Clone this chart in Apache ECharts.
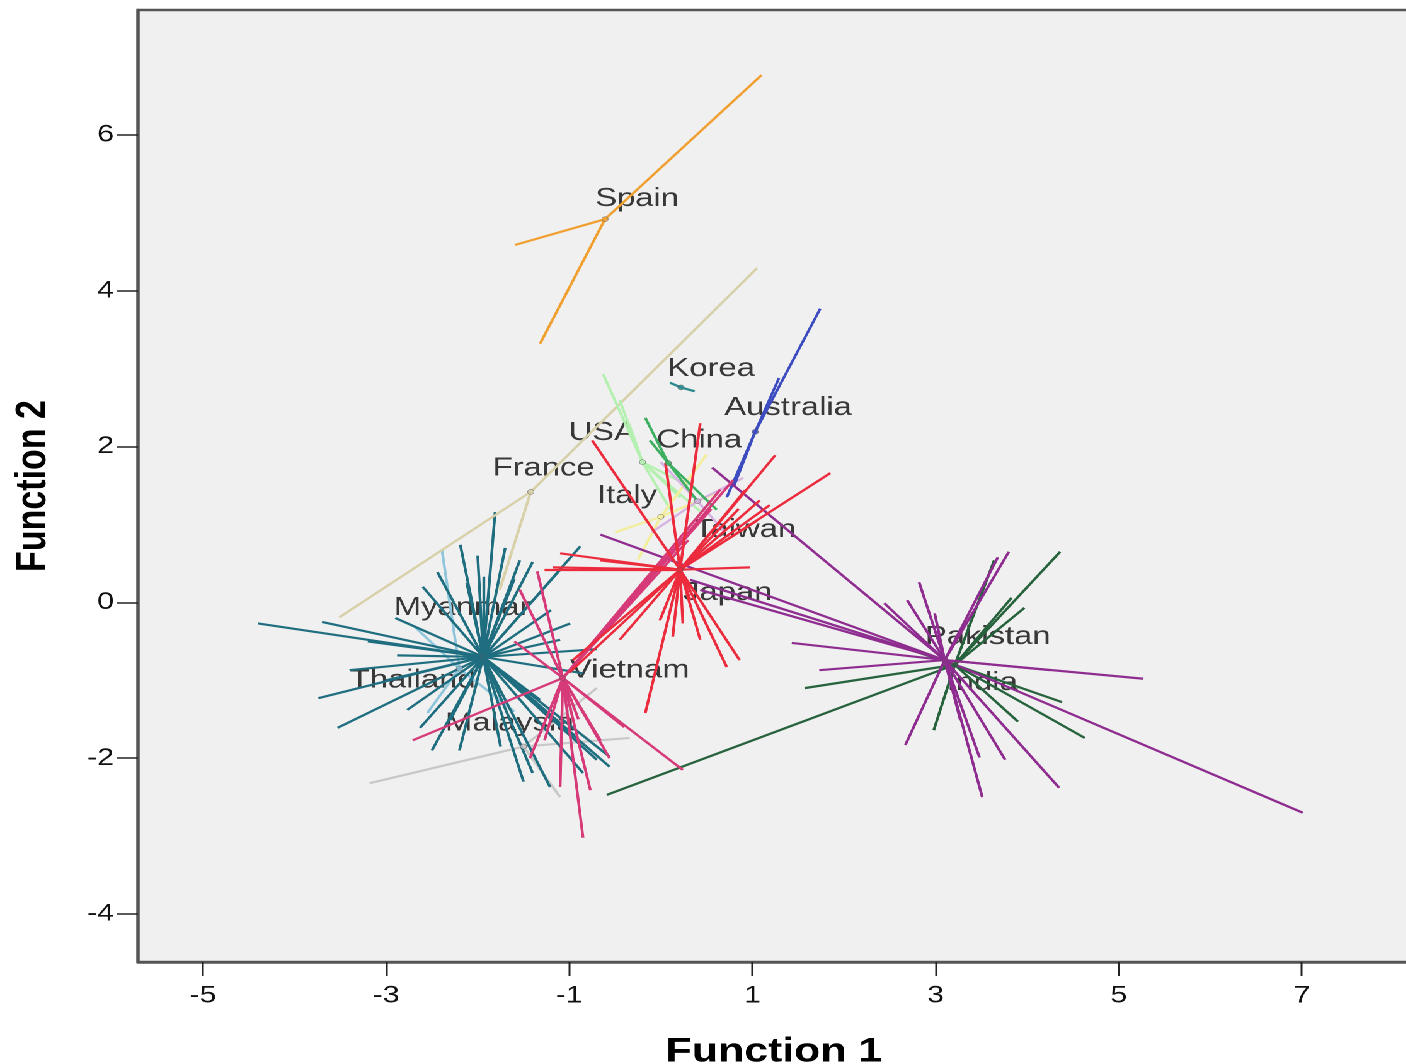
<!DOCTYPE html>
<html>
<head>
<meta charset="utf-8">
<title>Canonical Discriminant Functions</title>
<script src="https://cdn.jsdelivr.net/npm/echarts@6.0.0/dist/echarts.min.js"></script>
<style>
html, body { margin: 0; padding: 0; background: #fff; overflow: hidden; }
/* the source picture is stretched sideways, so the chart is too */
#main { width: 1116px; height: 1064px; transform: scaleX(1.26); transform-origin: 0 0; }
</style>
</head>
<body>
<div id="main"></div>
<script>
// group names, in drawing order
var groups = ['Malaysia', 'Myanmar', 'Thailand', 'France', 'Spain', 'Korea', 'USA', 'Italy',
              'Taiwan', 'China', 'Australia', 'India', 'Pakistan', 'Vietnam', 'Japan'];

// group centroids [function 1, function 2]
var centroids = {
  Spain: [-0.61, 4.92], France: [-1.42, 1.42], Korea: [0.22, 2.76], Australia: [1.03, 2.19],
  USA: [-0.2, 1.8], China: [0.08, 1.79], Italy: [0.0, 1.1], Taiwan: [0.4, 1.3],
  Japan: [0.21, 0.42], Vietnam: [-1.07, -0.97], Thailand: [-1.94, -0.7], Myanmar: [-2.2, -0.85],
  Malaysia: [-1.5, -1.85], Pakistan: [3.1, -0.74], India: [3.21, -0.8]
};

// case scores per group
var spainCases = [[1.10, 6.77], [-1.59, 4.59], [-1.32, 3.32]];
var franceCases = [[1.05, 4.29], [-3.51, -0.19], [-1.76, 0.16]];
var koreaCases = [[0.37, 2.71], [0.10, 2.82]];
var australiaCases = [[1.74, 3.77], [1.29, 2.88], [0.72, 1.35], [0.80, 1.50]];
var usaCases = [[-0.63, 2.93], [0.21, 1.35], [0.45, 1.15], [-0.35, 2.30], [0.10, 1.20],
  [-0.45, 2.6], [0.3, 1.5]];
var chinaCases = [[-0.12, 2.08], [0.61, 1.19], [0.40, 1.30], [-0.17, 2.37]];
var italyCases = [[0.50, 1.90], [-0.25, 0.55], [0.60, 1.40], [-0.50, 0.90]];
var taiwanCases = [[0.00, 1.80], [0.90, 1.60], [-0.10, 0.90], [0.70, 0.90]];
var japanCases = [[1.25, 1.89], [1.85, 1.66], [0.97, 0.45], [0.86, -0.74], [0.72, -0.83],
  [-0.17, -1.42], [0.13, -0.44], [0.24, -0.27], [-1.10, 0.63], [-1.18, 0.45], [-0.75, 2.08],
  [0.43, 2.30], [1.08, 1.31], [0.92, 1.44], [1.19, 1.25], [0.05, 1.79], [-0.66, 0.54],
  [-1.27, 0.42], [0.32, 0.03], [-0.01, -0.23], [-0.45, -0.48], [0.43, -0.48], [-0.96, -0.74],
  [-1.00, -0.90], [1.05, 1.05], [0.85, 1.2]];
var vietnamCases = [[0.79, 1.57], [0.55, 1.20], [0.40, 1.00], [-1.35, 0.40], [-1.54, 0.16],
  [-2.71, -1.77], [-0.85, -3.02], [-0.77, -2.41], [-0.56, -2.00], [-1.10, -2.37], [-1.43, -2.00],
  [0.24, -2.15], [-0.66, -1.77], [-1.27, -1.77], [-0.90, -1.50], [-1.60, -0.50], [-0.40, -1.60],
  [0.65, 1.45], [0.30, 0.80]];
var thailandCases = [[-4.40, -0.27], [-3.70, -0.25], [-3.74, -1.23], [-3.53, -1.61], [-2.88, -0.68],
  [-1.81, 1.16], [-2.44, 0.39], [-2.12, 0.25], [-1.94, 0.33], [-1.40, 0.52], [-0.88, 0.72],
  [-0.99, -0.27], [-0.85, -0.91], [-0.56, -2.11], [-0.56, -1.98], [-1.21, -2.37], [-0.85, -2.19],
  [-2.63, -1.61], [-2.30, -1.51], [-2.77, -1.38], [-1.40, -2.19], [-0.70, -2.02], [-2.19, 0.74],
  [-1.70, 0.70], [-1.54, 0.54], [-1.10, 0.42], [-3.40, -0.87], [-1.32, -1.25], [-1.10, -0.48],
  [-2.90, -0.20], [-3.20, -0.50], [-2.50, -1.90], [-1.50, -2.30], [-1.20, -1.50], [-2.20, -1.90],
  [-0.70, -0.60], [-1.20, -0.10], [-2.60, 0.20], [-1.60, 0.30], [-2.00, 0.60], [-3.00, -1.00],
  [-1.75, -1.85], [-0.95, -1.70]];
var myanmarCases = [[-2.39, 0.67], [-2.55, -1.42], [-2.70, -0.30], [-1.60, -1.40]];
var malaysiaCases = [[-3.18, -2.32], [-0.34, -1.74], [-0.70, -1.10], [-1.10, -2.50]];
var pakistanCases = [[7.01, -2.70], [5.27, -0.98], [4.35, -2.38], [3.51, -2.50], [2.67, -1.83],
  [3.76, -2.02], [3.48, -1.99], [2.82, 0.26], [2.69, 0.03], [2.44, -0.01], [2.99, -0.14],
  [3.68, 0.58], [1.43, -0.52], [1.73, -0.87], [-0.66, 0.87], [0.56, 1.73], [0.32, 0.29],
  [0.43, 0.16], [4.25, -0.87], [3.27, -1.51], [3.80, 0.65]];
var indiaCases = [[4.36, 0.65], [3.97, -0.07], [3.83, 0.06], [3.64, 0.54], [4.63, -1.74],
  [4.38, -1.28], [3.90, -1.53], [2.98, -1.64], [1.57, -1.10], [-0.59, -2.47], [2.40, -0.48]];

var cases = {
  Spain: spainCases, France: franceCases, Korea: koreaCases, Australia: australiaCases,
  USA: usaCases, China: chinaCases, Italy: italyCases, Taiwan: taiwanCases, Japan: japanCases,
  Vietnam: vietnamCases, Thailand: thailandCases, Myanmar: myanmarCases,
  Malaysia: malaysiaCases, Pakistan: pakistanCases, India: indiaCases
};

var xTicks = [-5, -3, -1, 1, 3, 5, 7];
var yTicks = [-4, -2, 0, 2, 4, 6];

// where SPSS put the group names (data units)
var labelSpots = [
  ['Spain', -0.26, 5.18], ['Korea', 0.55, 3.0], ['Australia', 1.39, 2.5], ['USA', -0.64, 2.18],
  ['China', 0.42, 2.08], ['France', -1.28, 1.72], ['Italy', -0.37, 1.37], ['Taiwan', 0.92, 0.93],
  ['Myanmar', -2.17, -0.07], ['Japan', 0.73, 0.12], ['Pakistan', 3.57, -0.44],
  ['Thailand', -2.71, -1.0], ['Vietnam', -0.34, -0.87], ['India', 3.51, -1.03],
  ['Malaysia', -1.65, -1.55]
];

var colors = {
  Spain: '#f0a030', France: '#d8d0a8', Korea: '#2a8a90', Australia: '#3c4cc0',
  USA: '#b4f0b0', China: '#3cb060', Italy: '#f2ee9c', Taiwan: '#d8b4e2',
  Japan: '#ec2b3d', Vietnam: '#d63a78', Thailand: '#1f6e80', Myanmar: '#90c6dc',
  Malaysia: '#c8c8c8', Pakistan: '#8e2c90', India: '#26623c'
};

var font = 'Liberation Sans, Arial, sans-serif';
var main = document.getElementById('main');
var chart = echarts.init(main, null, { devicePixelRatio: 2 });

var series = [];
series.push({
  type: 'scatter',
  z: 1,
  silent: true,
  symbolSize: 1,
  itemStyle: { color: 'rgba(0,0,0,0)' },
  label: {
    show: true, position: 'inside', formatter: function (p) { return p.name; },
    color: '#0a0a0a', fontFamily: font, fontSize: 26
  },
  data: labelSpots.map(function (s) { return { name: s[0], value: [s[1], s[2]] }; })
});
groups.forEach(function (g) {
  var c = centroids[g];
  series.push({
    type: 'lines',
    name: g,
    coordinateSystem: 'cartesian2d',
    z: 2,
    silent: true,
    lineStyle: { color: colors[g], width: 2.2, opacity: 1 },
    data: cases[g].map(function (p) { return { coords: [c, p] }; })
  });
});
series.push({
  type: 'scatter',
  z: 3,
  silent: true,
  symbolSize: 5,
  data: groups.map(function (g) {
    return { value: centroids[g], itemStyle: { color: colors[g], borderColor: '#555', borderWidth: 0.5 } };
  })
});

var option = {
  animation: false,
  backgroundColor: '#fff',
  grid: {
    left: 109.5, right: -3, top: 10, bottom: 102,
    outerBoundsMode: 'none',
    show: true, backgroundColor: '#f0f0f0', borderColor: '#555', borderWidth: 2.5
  },
  xAxis: {
    type: 'value', min: -5.71, max: 8.18,
    name: 'Function 1', nameLocation: 'middle', nameGap: 73,
    nameTextStyle: { fontFamily: font, fontSize: 34, fontWeight: 'bold', color: '#000' },
    axisLine: { show: true, onZero: false, lineStyle: { color: '#555', width: 2.5 } },
    axisTick: { show: true, length: 14, customValues: xTicks, lineStyle: { color: '#222', width: 1.5 } },
    axisLabel: { customValues: xTicks, margin: 22, fontFamily: font, fontSize: 24, color: '#111' },
    splitLine: { show: false }
  },
  yAxis: {
    type: 'value', min: -4.616, max: 7.605,
    name: 'Function 2', nameLocation: 'middle', nameGap: 66,
    nameTextStyle: { fontFamily: font, fontSize: 34, fontWeight: 'bold', color: '#000' },
    axisLine: { show: true, onZero: false, lineStyle: { color: '#555', width: 2.5 } },
    axisTick: { show: true, length: 17, customValues: yTicks, lineStyle: { color: '#222', width: 1.5 } },
    axisLabel: { customValues: yTicks, margin: 19, fontFamily: font, fontSize: 24, color: '#111' },
    splitLine: { show: false }
  },
  series: series
};
chart.setOption(option);
</script>
</body>
</html>
